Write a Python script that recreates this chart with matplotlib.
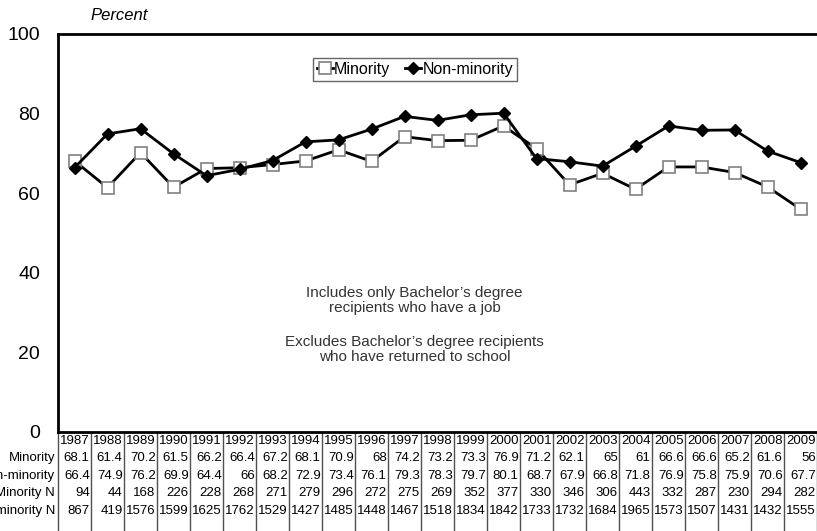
import matplotlib
matplotlib.use('Agg')
import matplotlib.pyplot as plt
import matplotlib.transforms as mtransforms

plt.rcParams['font.family'] = ['Liberation Sans', 'DejaVu Sans']

years = [1987, 1988, 1989, 1990, 1991, 1992, 1993, 1994, 1995, 1996, 1997, 1998,
         1999, 2000, 2001, 2002, 2003, 2004, 2005, 2006, 2007, 2008, 2009]
minority = [68.1, 61.4, 70.2, 61.5, 66.2, 66.4, 67.2, 68.1, 70.9, 68, 74.2, 73.2,
            73.3, 76.9, 71.2, 62.1, 65, 61, 66.6, 66.6, 65.2, 61.6, 56]
non_minority = [66.4, 74.9, 76.2, 69.9, 64.4, 66, 68.2, 72.9, 73.4, 76.1, 79.3, 78.3,
                79.7, 80.1, 68.7, 67.9, 66.8, 71.8, 76.9, 75.8, 75.9, 70.6, 67.7]
minority_n = [94, 44, 168, 226, 228, 268, 271, 279, 296, 272, 275, 269,
              352, 377, 330, 346, 306, 443, 332, 287, 230, 294, 282]
non_minority_n = [867, 419, 1576, 1599, 1625, 1762, 1529, 1427, 1485, 1448, 1467, 1518,
                  1834, 1842, 1733, 1732, 1684, 1965, 1573, 1507, 1431, 1432, 1555]

W, H = 817, 531
fig = plt.figure(figsize=(W / 100, H / 100), dpi=100)
ax = fig.add_axes([58 / W, 1 - 432 / H, 1 - 58 / W, (432 - 34) / H])

x = list(range(len(years)))
ax.plot(x, minority, color='black', lw=2, marker='s', ms=8, mfc='white',
        mec='#808080', mew=1.2, label='Minority', zorder=3)
ax.plot(x, non_minority, color='black', lw=2, marker='D', ms=6, mfc='black',
        mec='black', label='Non-minority', zorder=4)

ax.set_xlim(-0.5, len(years) - 0.5)
ax.set_ylim(0, 100)
ax.set_yticks([0, 20, 40, 60, 80, 100])
ax.tick_params(axis='y', length=0, pad=13, labelsize=14)
ax.set_xticks([])
for s in ['left', 'top', 'bottom']:
    ax.spines[s].set_linewidth(2)
ax.spines['right'].set_visible(False)

leg = ax.legend(loc='upper center', bbox_to_anchor=(0.47, 0.96), ncol=2, frameon=True,
                fancybox=False, edgecolor='#404040', fontsize=11.5, handlelength=1.0,
                handletextpad=0.1, columnspacing=0.9, borderpad=0.25)
leg.get_frame().set_linewidth(1)

ax.text(0.47, 0.33, "Includes only Bachelor\u2019s degree\nrecipients who have a job",
        transform=ax.transAxes, ha='center', va='center', fontsize=11, color='#333333',
        linespacing=1.1)
ax.text(0.47, 0.207, "Excludes Bachelor\u2019s degree recipients\nwho have returned to school",
        transform=ax.transAxes, ha='center', va='center', fontsize=11, color='#333333',
        linespacing=1.1)

fig.text(90 / W, 1 - 15 / H, 'Percent', fontsize=12, style='italic', va='center')

# data table under the plot
trans = mtransforms.blended_transform_factory(ax.transData, fig.transFigure)
row_y = [441, 458, 476, 493, 511]
rows = [years, minority, non_minority, minority_n, non_minority_n]
labels = ['', 'Minority', 'Non-minority', 'Minority N', 'Non-minority N']
for ry, vals, lab in zip(row_y, rows, labels):
    yy = 1 - ry / H
    for i, v in enumerate(vals):
        ax.text(i + 0.46, yy, f'{v:g}', transform=trans, ha='right', va='center',
                fontsize=9.5, clip_on=False)
    if lab:
        fig.text(55 / W, yy, lab, ha='right', va='center', fontsize=9.5)

for i in range(len(years) + 1):
    ax.plot([i - 0.5, i - 0.5], [1 - 433 / H, 0], transform=trans, color='#505050',
            lw=1, clip_on=False)

fig.savefig('out.png', dpi=100)
